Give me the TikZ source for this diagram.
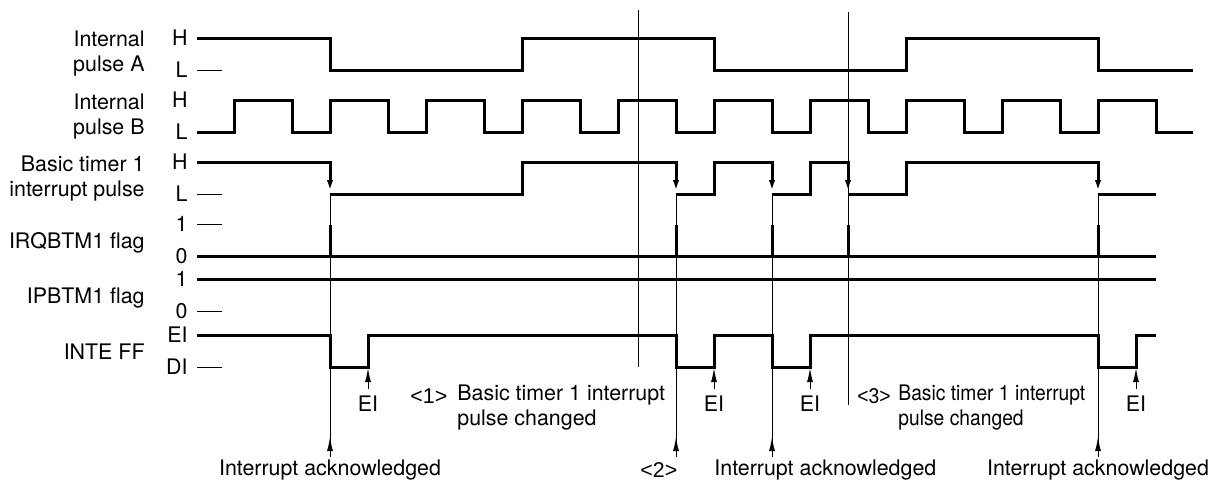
\documentclass[tikz,border=0pt]{standalone}
\usepackage{fontspec}
\setmainfont{TeX Gyre Heros}
\newfontfamily\narrowfont[FakeStretch=0.9]{TeX Gyre Heros}
\newfontfamily\tagfont{Liberation Sans}
\newfontfamily\narrowtagfont[FakeStretch=0.9]{Liberation Sans}
\usepackage{tikz}
\usetikzlibrary{arrows.meta}
\newcommand{\diagsize}{\fontsize{10.7}{12.5}\selectfont}
\tikzset{every node/.append style={font=\diagsize}}
\tikzset{
  wave/.style={line width=1.5pt,line join=miter},
  guide/.style={line width=0.5pt},
  lvltick/.style={line width=0.5pt},
  lvl/.style={anchor=east,inner sep=0pt},
  signame/.style={anchor=east,align=right,inner sep=0pt},
  note/.style={anchor=west,align=left,inner sep=0pt},
  narrownote/.style={note,font={\narrowfont\diagsize}},
  tag/.style={note,font={\tagfont\diagsize}},
  narrowtag/.style={note,font={\narrowtagfont\diagsize}}
}

\begin{document}
\begin{tikzpicture}[x=0.5pt,y=-0.5pt,>={Latex[length=7pt,width=3pt]}]
  \useasboundingbox (0,0) rectangle (1212,487);
  % signal names
  \node[signame] (nameA) at (145,54) {Internal\\pulse A};
  \node[signame] (nameB) at (145,117) {Internal\\pulse B};
  \node[signame] (nameBT) at (145,179) {Basic timer 1\\interrupt pulse};
  \node[signame] (nameIRQ) at (145,243) {IRQBTM1 flag};
  \node[signame] (nameIP) at (145,298) {IPBTM1 flag};
  \node[signame] (nameINTE) at (145,352) {INTE FF};
  % levels
  \foreach \lab/\yy [count=\i] in {H/38,L/70,H/100,L/132,H/162,L/194,1/224,0/256,1/279,0/311,EI/335,DI/367}
    \node[lvl] (lvl\i) at (188,\yy) {\lab};
  \foreach \yy in {70,194,224,311,367}
    \draw[lvltick] (197,\yy) -- (222,\yy);
  % internal pulse A
  \draw[wave] (197,38) -- (330,38) -- (330,70) -- (522,70) -- (522,38) -- (714,38)
    -- (714,70) -- (906,70) -- (906,38) -- (1098,38) -- (1098,70) -- (1193,70);
  % internal pulse B
  \draw[wave] (197,132) \foreach \k in {0,...,9} {
      -- ({234+96*\k},132) -- ({234+96*\k},100) -- ({292+96*\k},100) -- ({292+96*\k},132)
    } -- (1193,132);
  % basic timer 1 interrupt pulse
  \draw[wave] (197,162) -- (330,162);
  \draw[wave] (330,194) -- (522,194) -- (522,162) -- (676,162);
  \draw[wave] (676,194) -- (714,194) -- (714,162) -- (772,162);
  \draw[wave] (772,194) -- (810,194) -- (810,162) -- (848,162);
  \draw[wave] (848,194) -- (906,194) -- (906,162) -- (1098,162);
  \draw[wave] (1098,194) -- (1156,194);
  \foreach \xx in {330,676,772,848,1098}
    \draw[wave,->] (\xx,160.5) -- (\xx,194);
  % IRQBTM1 flag
  \draw[wave] (197,256) -- (1156,256);
  \foreach \xx in {330,676,772,848,1098}
    \draw[wave] (\xx,257.5) -- (\xx,225);
  % IPBTM1 flag
  \draw[wave] (197,279) -- (1156,279);
  % INTE FF
  \draw[wave] (197,335) -- (330,335) -- (330,367) -- (368,367) -- (368,335) -- (676,335)
    -- (676,367) -- (714,367) -- (714,335) -- (772,335) -- (772,367) -- (810,367)
    -- (810,335) -- (1098,335) -- (1098,367) -- (1136,367) -- (1136,335) -- (1156,335);
  \foreach \xx [count=\i] in {368,714,810,1136} {
    \node (ei\i) at (\xx,404) {EI};
    \draw[guide,->] (ei\i.north) -- (\xx,368);
  }
  % change markers
  \draw[guide] (638,10) -- (638,367);
  \draw[guide] (848,12) -- (848,405);
  \node[tag] (tag1) at (410,396) {<1>};
  \node[note] (chg1) at (457,408) {Basic timer 1 interrupt\\pulse changed};
  \node[narrowtag] (tag3) at (857,396) {<3>};
  \node[narrownote] (chg3) at (898,408) {Basic timer 1 interrupt\\pulse changed};
  % interrupt acknowledge
  \node[inner sep=0pt] (ack1) at (330,470) {Interrupt acknowledged};
  \node[tag] (tag2) at (640,470) {<2>};
  \node[note] (ack2) at (714,470) {Interrupt acknowledged};
  \node[inner sep=0pt] (ack3) at (1098,470) {Interrupt acknowledged};
  \foreach \xx in {330,676,772,1098} {
    \draw[guide] (\xx,194) -- (\xx,457);
    \draw[guide,->] (\xx,457) -- (\xx,437);
  }
\end{tikzpicture}
\end{document}
